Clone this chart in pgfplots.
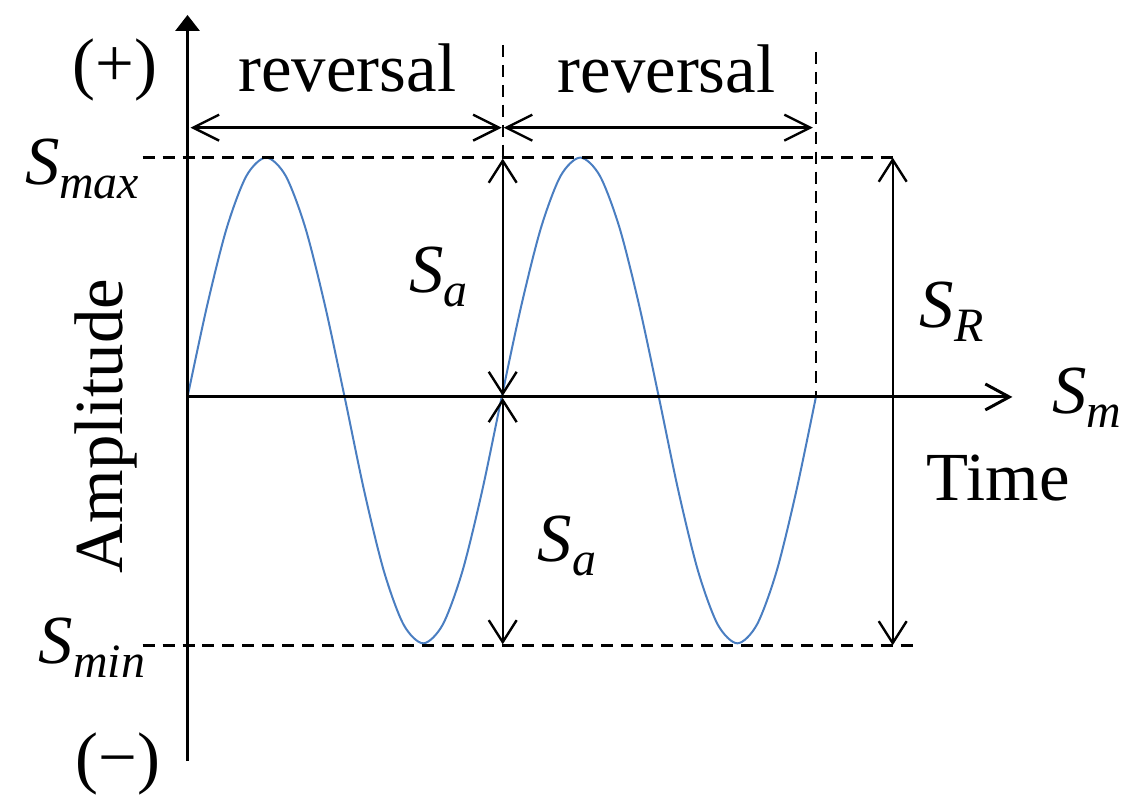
\documentclass[border=0pt]{standalone}
\usepackage{fontspec}
\setmainfont{Liberation Serif}
\usepackage{pgfplots}
\pgfplotsset{compat=1.18}
\usetikzlibrary{arrows.meta}
\definecolor{sineblue}{RGB}{74,126,193}
\newcommand{\bigtxt}{\fontsize{34.5pt}{36pt}\selectfont}
\newcommand{\sub}[1]{\raisebox{-7pt}{\fontsize{24pt}{26pt}\selectfont\textit{#1}}}
\begin{document}
\begin{tikzpicture}
\begin{axis}[
  scale only axis, width=564pt, height=406pt,
  xmin=0, xmax=1128, ymin=0, ymax=812,
  hide axis, clip=false,
  every node/.style={inner sep=0pt, outer sep=0pt},
]
% sine wave (two periods)
\addplot[color=sineblue, line width=1pt, smooth] coordinates {
(188.0,414.0) (207.7,505.8) (227.4,583.7) (247.1,635.7) (266.8,654.0)
(286.4,635.7) (306.1,583.7) (325.8,505.8) (345.5,414.0)
(365.2,319.5) (384.9,239.3) (404.6,185.8) (424.3,167.0)
(443.9,185.8) (463.6,239.3) (483.3,319.5) (503.0,414.0)
(522.7,505.8) (542.4,583.7) (562.1,635.7) (581.8,654.0)
(601.4,635.7) (621.1,583.7) (640.8,505.8) (660.5,414.0)
(680.2,319.5) (699.9,239.3) (719.6,185.8) (739.3,167.0)
(758.9,185.8) (778.6,239.3) (798.3,319.5) (818.0,414.0)
};
% dashed guide lines
\addplot[black, line width=1.2pt, dash pattern=on 6pt off 4pt] coordinates {(143,654) (897,654)};
\addplot[black, line width=1.2pt, dash pattern=on 6pt off 4pt] coordinates {(143,165) (922,165)};
\addplot[black, line width=1.2pt, dash pattern=on 6pt off 4pt] coordinates {(504,767) (504,654)};
\addplot[black, line width=1.2pt, dash pattern=on 6pt off 4pt] coordinates {(818,760) (818,414)};
% axes
\addplot[black, line width=1.5pt, -{Triangle[length=8pt,width=12pt]}] coordinates {(188,49) (188,797)};
\addplot[black, line width=1.5pt, -{Straight Barb[length=12pt,width=13pt]}] coordinates {(188,414) (1015,414)};
% reversal arrows
\addplot[black, line width=1.2pt, {Straight Barb[length=13pt,width=13pt]}-{Straight Barb[length=13pt,width=13pt]}] coordinates {(191,684) (503,684)};
\addplot[black, line width=1.2pt, {Straight Barb[length=13pt,width=13pt]}-{Straight Barb[length=13pt,width=13pt]}] coordinates {(505,684) (815,684)};
% S_a arrows
\addplot[black, line width=1.2pt, {Straight Barb[length=11pt,width=14pt]}-{Straight Barb[length=11pt,width=14pt]}] coordinates {(504,653) (504,415)};
\addplot[black, line width=1.2pt, {Straight Barb[length=11pt,width=14pt]}-{Straight Barb[length=11pt,width=14pt]}] coordinates {(504,413) (504,166)};
% S_R arrow
\addplot[black, line width=1.2pt, {Straight Barb[length=11pt,width=14pt]}-{Straight Barb[length=11pt,width=14pt]}] coordinates {(895,654) (895,165)};
% labels
\node[anchor=base west] at (axis cs:232,720) {\bigtxt reversal};
\node[anchor=base west] at (axis cs:552,719) {\bigtxt reversal};
\node[anchor=center] at (axis cs:115,742) {\bigtxt (+)};
\node[anchor=center] at (axis cs:118,46) {\bigtxt (−)};
\node[anchor=base west] at (axis cs:18,627) {\bigtxt\textit{S}\sub{max}};
\node[anchor=base west] at (axis cs:32,147) {\bigtxt\textit{S}\sub{min}};
\node[anchor=base west] at (axis cs:403,519) {\bigtxt\textit{S}\sub{a}};
\node[anchor=base west] at (axis cs:532,249) {\bigtxt\textit{S}\sub{a}};
\node[anchor=base west] at (axis cs:915,484) {\bigtxt\textit{S}\sub{R}};
\node[anchor=base west] at (axis cs:1048,397) {\bigtxt\textit{S}\sub{m}};
\node[anchor=base west] at (axis cs:922,310) {\bigtxt Time};
\node[anchor=base, rotate=90] at (axis cs:123,385) {\bigtxt Amplitude};
\end{axis}
\path (current axis.south west) rectangle (current axis.north east);
\end{tikzpicture}
\end{document}
